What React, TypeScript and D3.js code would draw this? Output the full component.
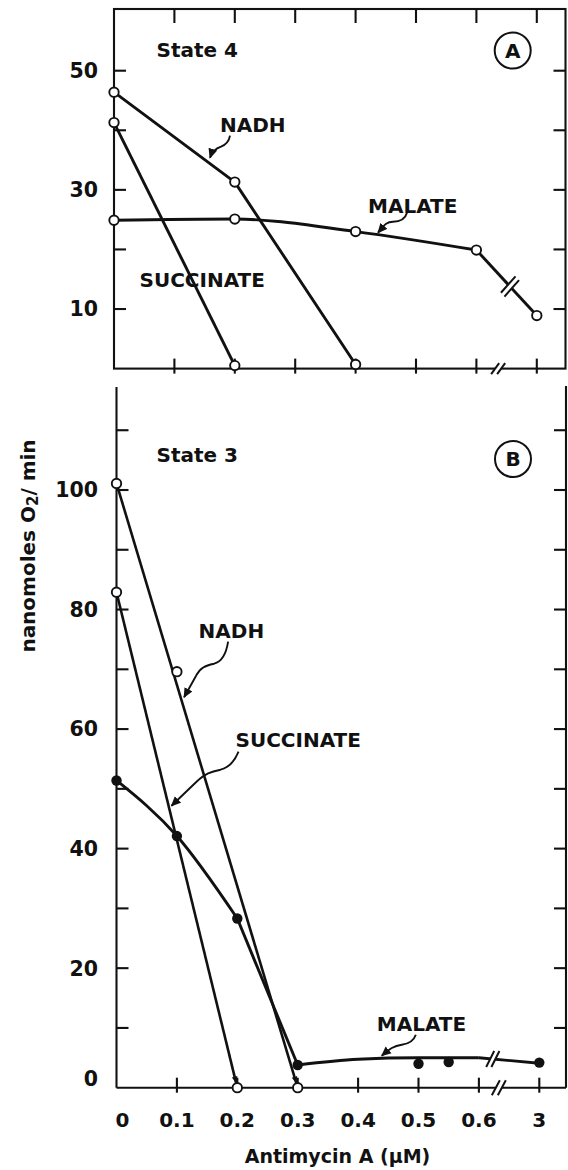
import React from 'react';
import * as d3 from 'd3';

// ---------- data ----------
const xTickValues = [0, 0.1, 0.2, 0.3, 0.4, 0.5, 0.6, 3];
const xTickLabels = ['0', '0.1', '0.2', '0.3', '0.4', '0.5', '0.6', '3'];

// Panel A — State 4
const aNadh = [{ x: 0, y: 46.4 }, { x: 0.2, y: 31.3 }, { x: 0.4, y: 0.7 }];
const aSuccinate = [{ x: 0, y: 41.3 }, { x: 0.2, y: 0.5 }];
const aMalate = [
  { x: 0, y: 24.9 }, { x: 0.2, y: 25.1 }, { x: 0.4, y: 23.0 }, { x: 0.6, y: 19.9 }, { x: 3, y: 8.9 },
];
const aYTicks = [10, 20, 30, 40, 50];
const aYLabels = [10, 30, 50];

// Panel B — State 3
const bNadh = [{ x: 0, y: 101.1 }, { x: 0.1, y: 69.6 }, { x: 0.3, y: 0 }];
const bSuccinate = [{ x: 0, y: 82.9 }, { x: 0.2, y: 0 }];
const bFilled = [
  { x: 0, y: 51.4 }, { x: 0.1, y: 42.1 }, { x: 0.2, y: 28.3 }, { x: 0.3, y: 3.8 },
  { x: 0.5, y: 4.0 }, { x: 0.55, y: 4.3 }, { x: 3, y: 4.2 },
];
const bMalateFit = [
  { x: 0.3, y: 3.8 }, { x: 0.4, y: 4.75 }, { x: 0.5, y: 5.0 }, { x: 0.6, y: 5.0 },
];
const bMalateTail = [{ x: 0.6, y: 5.0 }, { x: 3, y: 4.1 }];
const bYTicks = [10, 20, 30, 40, 50, 60, 70, 80, 90, 100, 110];
const bYLabels = [0, 20, 40, 60, 80, 100];

// ---------- layout ----------
const W = 568;
const H = 1170;
const INK = '#111';
const FONT = "'DejaVu Sans', 'Liberation Sans', sans-serif";
const STEP = 60.4;
const RIGHT = 565.5;

const xA = d3.scaleLinear().domain([0, 0.6, 3]).range([114, 114 + 6 * STEP, 114 + 7 * STEP]);
const yA = d3.scaleLinear().domain([0, 60]).range([368.6, 368.6 - 60 * 5.958]);
const A_TOP = 9;

const xB = d3.scaleLinear().domain([0, 0.6, 3]).range([116.5, 116.5 + 6 * STEP, 116.5 + 7 * STEP]);
const yB = d3.scaleLinear().domain([0, 100]).range([1087.7, 490]);
const B_TOP = 387;

type P = { x: number; y: number };

function BreakMark({ cx, cy, s, o }: { cx: number; cy: number; s: [number, number]; o: [number, number] }) {
  const p = (a: number, b: number) => [cx + a * o[0] + b * s[0], cy + a * o[1] + b * s[1]];
  const poly = [p(-1, -1), p(-1, 1), p(1, 1), p(1, -1)].map((q) => q.join(',')).join(' ');
  return (
    <g>
      <polygon points={poly} fill="#fff" stroke="none" />
      <line x1={p(-1, -1)[0]} y1={p(-1, -1)[1]} x2={p(-1, 1)[0]} y2={p(-1, 1)[1]} stroke={INK} strokeWidth={2} />
      <line x1={p(1, -1)[0]} y1={p(1, -1)[1]} x2={p(1, 1)[0]} y2={p(1, 1)[1]} stroke={INK} strokeWidth={2} />
    </g>
  );
}

function shorten(pts: [number, number][], d: number): [number, number][] {
  const n = pts.length;
  const [x1, y1] = pts[n - 2];
  const [x2, y2] = pts[n - 1];
  const L = Math.hypot(x2 - x1, y2 - y1);
  const out = pts.slice(0, n - 1);
  out.push([x2 - ((x2 - x1) / L) * d, y2 - ((y2 - y1) / L) * d]);
  return out;
}

export default function App() {
  const lin = d3.line<[number, number]>().x((d) => d[0]).y((d) => d[1]);
  const mono = d3.line<[number, number]>().x((d) => d[0]).y((d) => d[1]).curve(d3.curveMonotoneX);

  const pa = (arr: P[]) => arr.map((d) => [xA(d.x), yA(d.y)] as [number, number]);
  const pb = (arr: P[]) => arr.map((d) => [xB(d.x), yB(d.y)] as [number, number]);

  const lineStyle = { fill: 'none', stroke: INK, strokeWidth: 2.9, strokeLinejoin: 'round' as const };
  const axisStyle = { fill: 'none', stroke: INK, strokeWidth: 2.1 };
  const textStyle = { fontFamily: FONT, fontWeight: 700, fill: INK } as React.CSSProperties;

  const openCircle = (c: [number, number], k: string) => (
    <circle key={k} cx={c[0]} cy={c[1]} r={4.7} fill="#fff" stroke={INK} strokeWidth={1.9} />
  );
  const filledCircle = (c: [number, number], k: string) => (
    <circle key={k} cx={c[0]} cy={c[1]} r={5.2} fill={INK} />
  );

  // panel A malate pieces
  const aMal = pa(aMalate);
  const aMalCurve = aMal.slice(0, 4);
  const aMalTail = aMal.slice(3);
  const tA = 0.556;
  const aBrk = [aMalTail[0][0] + (aMalTail[1][0] - aMalTail[0][0]) * tA, aMalTail[0][1] + (aMalTail[1][1] - aMalTail[0][1]) * tA];
  const segLen = Math.hypot(aMalTail[1][0] - aMalTail[0][0], aMalTail[1][1] - aMalTail[0][1]);
  const ux = (aMalTail[1][0] - aMalTail[0][0]) / segLen;
  const uy = (aMalTail[1][1] - aMalTail[0][1]) / segLen;

  // panel B pieces
  const bNadhLine = shorten(pb([bNadh[0], bNadh[bNadh.length - 1]]), 5);
  const bSuccLine = shorten(pb(bSuccinate), 5);
  const bFilledPx = pb(bFilled);
  const bCurve1 = bFilledPx.slice(0, 3);
  const bStraight = bFilledPx.slice(2, 4);
  const bCurve2 = pb(bMalateFit);
  const bTail = pb(bMalateTail);
  const tB = 0.23;
  const bBrk = [bTail[0][0] + (bTail[1][0] - bTail[0][0]) * tB, bTail[0][1] + (bTail[1][1] - bTail[0][1]) * tB];

  const aAxisY = yA(0);
  const bAxisY = yB(0);
  const aBreakX = xA(0.6) + STEP * 0.36;
  const bBreakX = xB(0.6) + STEP * 0.33;

  return (
    <svg width={W} height={H} viewBox={`0 0 ${W} ${H}`} style={{ position: 'absolute', left: 0, top: 0, background: '#fff' }}>
      <defs>
        <marker id="arr" viewBox="0 0 10 10" refX="9" refY="5" markerWidth="10" markerHeight="10" markerUnits="userSpaceOnUse" orient="auto">
          <path d="M0,0.5 L10,5 L0,9.5 z" fill={INK} />
        </marker>
        <marker id="arrS" viewBox="0 0 10 10" refX="9" refY="5" markerWidth="7" markerHeight="7" markerUnits="userSpaceOnUse" orient="auto">
          <path d="M0,1 L10,5 L0,9 z" fill={INK} />
        </marker>
      </defs>
      <rect x={0} y={0} width={W} height={H} fill="#fff" />

      {/* ================= PANEL A ================= */}
      <g>
        <rect x={xA(0)} y={A_TOP} width={RIGHT - xA(0)} height={aAxisY - A_TOP} {...axisStyle} />
        {xTickValues.slice(1).map((v) => (
          <g key={'ax' + v}>
            <line x1={xA(v)} x2={xA(v)} y1={aAxisY - 10} y2={aAxisY + 5} {...axisStyle} />
            <line x1={xA(v)} x2={xA(v)} y1={A_TOP} y2={A_TOP + 14} {...axisStyle} />
          </g>
        ))}
        <BreakMark cx={aBreakX} cy={aAxisY} s={[4, -5.5]} o={[3, 0]} />
        {aYTicks.map((v) => (
          <g key={'ay' + v}>
            <line x1={xA(0)} x2={xA(0) + 12} y1={yA(v)} y2={yA(v)} {...axisStyle} />
            <line x1={RIGHT - 12} x2={RIGHT} y1={yA(v)} y2={yA(v)} {...axisStyle} />
          </g>
        ))}
        {aYLabels.map((v) => (
          <text key={'ayl' + v} x={98} y={yA(v)} dy="0.36em" textAnchor="end" fontSize={20.5} style={textStyle}>{v}</text>
        ))}

        <path d={lin(pa(aNadh)) || ''} {...lineStyle} />
        <path d={lin(pa(aSuccinate)) || ''} {...lineStyle} />
        <path d={mono(aMalCurve) || ''} {...lineStyle} />
        <path d={lin(aMalTail) || ''} {...lineStyle} />
        <BreakMark cx={aBrk[0]} cy={aBrk[1]} s={[7.3, -8.2]} o={[ux * 2.6, uy * 2.6]} />

        {pa(aNadh).map((c, i) => openCircle(c, 'an' + i))}
        {pa(aSuccinate).map((c, i) => openCircle(c, 'as' + i))}
        {aMal.map((c, i) => openCircle(c, 'am' + i))}

        <text x={156.5} y={57} fontSize={20} style={textStyle}>State  4</text>
        <circle cx={512.7} cy={50.5} r={18} fill="none" stroke={INK} strokeWidth={2} />
        <text x={512.7} y={50.5} dy="0.36em" textAnchor="middle" fontSize={20} style={textStyle}>A</text>

        <g transform="translate(220,131.7)">
          <text x={0} y={0} fontSize={20} style={textStyle}>NADH</text>
          <path d="M10,4 C9,10 6,13 1,15 C-5,17 -8,20 -10,26" fill="none" stroke={INK} strokeWidth={1.9} markerEnd="url(#arr)" />
        </g>
        <g transform="translate(368,212.7)">
          <text x={0} y={0} fontSize={20} style={textStyle}>MALATE</text>
          <path d="M39,0 C37,7 32,9 25,9 C18,9 16,13 10,20" fill="none" stroke={INK} strokeWidth={1.9} markerEnd="url(#arr)" />
        </g>
        <text x={139.5} y={286.7} fontSize={20} style={textStyle}>SUCCINATE</text>
      </g>

      {/* ================= PANEL B ================= */}
      <g>
        <line x1={xB(0)} x2={xB(0)} y1={B_TOP} y2={bAxisY} {...axisStyle} />
        <line x1={RIGHT + 0.5} x2={RIGHT + 0.5} y1={B_TOP - 1} y2={bAxisY} {...axisStyle} />
        <line x1={xB(0)} x2={RIGHT + 0.5} y1={bAxisY} y2={bAxisY} {...axisStyle} />
        {xTickValues.slice(1).map((v) => (
          <line key={'bx' + v} x1={xB(v)} x2={xB(v)} y1={bAxisY - 10} y2={bAxisY + 5} {...axisStyle} />
        ))}
        <BreakMark cx={bBreakX} cy={bAxisY} s={[4, -7.5]} o={[3, 0]} />
        {bYTicks.map((v) => (
          <g key={'by' + v}>
            <line x1={xB(0)} x2={xB(0) + 12} y1={yB(v)} y2={yB(v)} {...axisStyle} />
            <line x1={RIGHT + 0.5 - 12} x2={RIGHT + 0.5} y1={yB(v)} y2={yB(v)} {...axisStyle} />
          </g>
        ))}
        {bYLabels.map((v) => (
          <text key={'byl' + v} x={98} y={yB(v) + (v === 0 ? -9 : 0)} dy="0.36em" textAnchor="end" fontSize={20.5} style={textStyle}>{v}</text>
        ))}
        {xTickValues.map((v, i) => (
          <text key={'bxl' + v} x={xB(v) + (v === 0 ? 6 : 0)} y={1127} textAnchor="middle" fontSize={20} style={textStyle}>{xTickLabels[i]}</text>
        ))}

        <path d={lin(bNadhLine) || ''} {...lineStyle} strokeWidth={2.6} markerEnd="url(#arrS)" />
        <path d={lin(bSuccLine) || ''} {...lineStyle} strokeWidth={2.6} markerEnd="url(#arrS)" />
        <path d={mono(bCurve1) || ''} {...lineStyle} />
        <path d={lin(bStraight) || ''} {...lineStyle} />
        <path d={mono(bCurve2) || ''} {...lineStyle} />
        <path d={lin(bTail) || ''} {...lineStyle} />
        <BreakMark cx={bBrk[0]} cy={bBrk[1]} s={[4, -8]} o={[2.6, 0]} />

        {pb(bNadh).map((c, i) => openCircle(c, 'bn' + i))}
        {pb(bSuccinate).map((c, i) => openCircle(c, 'bs' + i))}
        {bFilledPx.map((c, i) => filledCircle(c, 'bf' + i))}

        <text x={156.5} y={461.7} fontSize={20} style={textStyle}>State  3</text>
        <circle cx={513} cy={459} r={18} fill="none" stroke={INK} strokeWidth={2} />
        <text x={513} y={459} dy="0.36em" textAnchor="middle" fontSize={20} style={textStyle}>B</text>

        <g transform="translate(198.6,637.7)">
          <text x={0} y={0} fontSize={20} style={textStyle}>NADH</text>
          <path d="M29.5,4 C27.5,17 23.5,24 15.5,26 C6.5,28 1.5,30 -2.5,38 L-14.5,59.5" fill="none" stroke={INK} strokeWidth={1.9} markerEnd="url(#arr)" />
        </g>
        <g transform="translate(235.5,746.7)">
          <text x={0} y={0} fontSize={20} style={textStyle}>SUCCINATE</text>
          <path d="M3,5 C-1,15 -7,21 -15,23 C-25,25 -30,27 -39,35 L-64,59" fill="none" stroke={INK} strokeWidth={1.9} markerEnd="url(#arr)" />
        </g>
        <g transform="translate(376.8,1030.7)">
          <text x={0} y={0} fontSize={20} style={textStyle}>MALATE</text>
          <path d="M39,4 C37,10 32,13 25,14 C17,15 13,18 5,25" fill="none" stroke={INK} strokeWidth={1.9} markerEnd="url(#arr)" />
        </g>
      </g>

      <text x={337.5} y={1163} textAnchor="middle" fontSize={19} style={textStyle}>Antimycin A  (μM)</text>
      <text transform="translate(35,546) rotate(-90)" textAnchor="middle" fontSize={20} style={textStyle}>
        nanomoles  O<tspan fontSize={15} dy={3}>2</tspan><tspan dy={-3}>/ min</tspan>
      </text>
    </svg>
  );
}
